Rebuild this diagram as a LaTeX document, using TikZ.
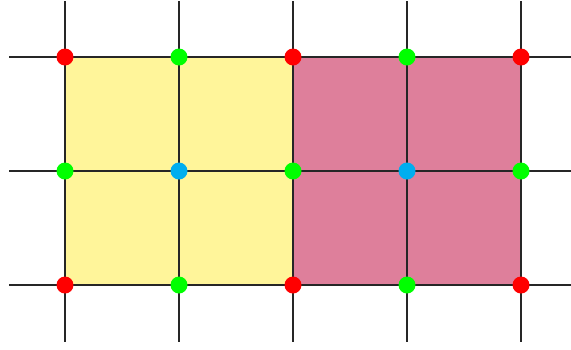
\documentclass[tikz,border=0pt]{standalone}
\definecolor{elyellow}{HTML}{FFF59A}
\definecolor{elpink}{HTML}{DE7F9B}
\definecolor{dotred}{HTML}{FF0000}
\definecolor{dotgreen}{HTML}{00FF00}
\definecolor{dotblue}{HTML}{00AEEF}
\tikzset{
  gridline/.style={line width=1.4pt, draw=black!85},
  dot/.style={circle, inner sep=0pt, minimum size=17pt},
  corner/.style={dot, fill=dotred},
  midside/.style={dot, fill=dotgreen},
  center/.style={dot, fill=dotblue},
}
\begin{document}
\begin{tikzpicture}[x=1pt,y=-1pt]
\useasboundingbox (0,0) rectangle (571,349);
\fill[elyellow] (65,57) rectangle (293,285);
\fill[elpink] (293,57) rectangle (521,285);
\foreach \y in {57,171,285} \draw[gridline] (9,\y) -- (571,\y);
\foreach \x in {65,179,293,407,521} \draw[gridline] (\x,1) -- (\x,342);
\foreach \x/\i in {65/1,293/3,521/5} {
  \node[corner] (r\i a) at (\x,57) {};
  \node[corner] (r\i c) at (\x,285) {};
  \node[midside] (g\i b) at (\x,171) {};
}
\foreach \x/\i in {179/2,407/4} {
  \node[midside] (g\i a) at (\x,57) {};
  \node[midside] (g\i c) at (\x,285) {};
  \node[center] (b\i b) at (\x,171) {};
}
\end{tikzpicture}
\end{document}
